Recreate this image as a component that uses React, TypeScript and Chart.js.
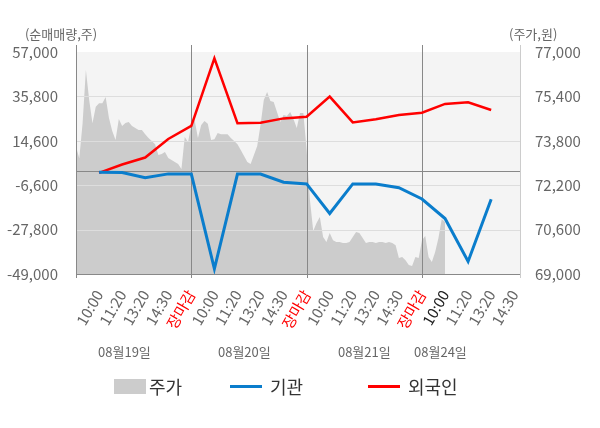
import React, { useEffect, useRef } from 'react';
import { Chart, registerables } from 'chart.js';

Chart.register(...registerables);

const FONT = "'Noto Sans CJK KR', 'Noto Sans', sans-serif";

const timeLabels = [
  '10:00', '11:20', '13:20', '14:30', '장마감',
  '10:00', '11:20', '13:20', '14:30', '장마감',
  '10:00', '11:20', '13:20', '14:30', '장마감',
  '10:00', '11:20', '13:20', '14:30',
];
const sessionEnds = [4, 9, 14];
const currentIndex = 15;

const dateLabels = ['08월19일', '08월20일', '08월21일', '08월24일'];
const datePositions = [1.1, 6.3, 11.5, 14.8];

// 순매매량 (주)
const institution = [
  -400, -500, -3000, -1200, -1300, -46500, -1300, -1300, -5200,
  -6000, -20100, -6000, -6000, -7800, -13200, -22500, -43000, -13300,
];
const foreign = [
  -700, 3300, 6600, 15500, 21700, 54000, 23000, 23200, 25300,
  26100, 35700, 23400, 24900, 26900, 28000, 32200, 33000, 29300,
];

// 주가 (원), 7 samples per time slot, starting one slot before the first label
const PRICE_SAMPLES_PER_SLOT = 7;
const priceValues = [
  73590, 73170, 74430, 76350, 75270, 74430, 75030, 75150, 75150, 75380,
  74620, 74150, 73830, 74590, 74330, 74440, 74480, 74330, 74260, 74190,
  74190, 74040, 73900, 73790, 73680, 73290, 73320, 73400, 73180, 73110,
  73040, 72960, 72780, 73940, 73760, 74370, 74550, 73900, 74370, 74510,
  74410, 73830, 73860, 74080, 74040, 74040, 74040, 73900, 73790, 73680,
  73470, 73250, 73040, 72960, 73290, 73610, 74370, 75270, 75560, 75230,
  75200, 74840, 74480, 74730, 74690, 74840, 74590, 74260, 74800, 74800,
  73470, 71670, 70550, 70840, 71050, 70330, 70150, 70480, 70220, 70150,
  70150, 70120, 70120, 70150, 70330, 70510, 70480, 70300, 70120, 70150,
  70150, 70120, 70150, 70150, 70120, 70150, 70120, 70040, 69580, 69610,
  69500, 69320, 69290, 69610, 69580, 70220, 70370, 69610, 69430, 69790,
  70300, 70980, 70870,
];

const leftTicks = [-49000, -27800, -6600, 14600, 35800, 57000];
const rightTicks = [69000, 70600, 72200, 73800, 75400, 77000];

const decorPlugin = {
  id: 'decor',
  beforeDatasetsDraw(chart: any) {
    const { ctx, chartArea: a } = chart;
    ctx.save();
    ctx.fillStyle = '#f4f4f4';
    ctx.fillRect(a.left, a.top, a.right - a.left, a.bottom - a.top);
    ctx.restore();
  },
  afterDatasetDraw(chart: any, args: any) {
    if (args.index !== 2) return;
    const { ctx, chartArea: a, scales } = chart;
    const y = scales.y;
    const x = scales.x;
    const hline = (py: number, color: string) => {
      const yy = Math.round(py) + 0.5;
      ctx.strokeStyle = color;
      ctx.beginPath();
      ctx.moveTo(a.left, yy);
      ctx.lineTo(a.right, yy);
      ctx.stroke();
    };
    const vline = (px: number, color: string) => {
      const xx = Math.round(px) + 0.5;
      ctx.strokeStyle = color;
      ctx.beginPath();
      ctx.moveTo(xx, a.top - 7);
      ctx.lineTo(xx, a.bottom + 4);
      ctx.stroke();
    };
    ctx.save();
    ctx.lineWidth = 1;
    leftTicks.slice(1, -1).forEach((v) => hline(y.getPixelForValue(v), '#dddddd'));
    hline(y.getPixelForValue(0), '#888888');
    hline(a.bottom, '#888888');
    vline(a.left, '#888888');
    sessionEnds.forEach((i) => vline(x.getPixelForValue(i), '#888888'));
    vline(a.right, '#cccccc');
    ctx.restore();
  },
  afterDraw(chart: any) {
    const { ctx, chartArea: a, scales } = chart;
    ctx.save();
    ctx.fillStyle = '#666666';
    ctx.font = `13px ${FONT}`;
    ctx.textBaseline = 'middle';
    ctx.textAlign = 'center';
    ctx.fillText('(순매매량,주)', a.left - 15, 34);
    ctx.textAlign = 'left';
    ctx.fillText('(주가,원)', a.right - 11, 34);
    ctx.textAlign = 'center';
    dateLabels.forEach((d, i) => {
      ctx.fillText(d, scales.x.getPixelForValue(datePositions[i]), 352);
    });
    ctx.restore();
  },
};

const legendItems = [
  { label: '주가', color: '#cccccc', box: true, left: 114 },
  { label: '기관', color: '#0a7dcc', box: false, left: 230 },
  { label: '외국인', color: '#ff0000', box: false, left: 368 },
];

const App: React.FC = () => {
  const canvasRef = useRef<HTMLCanvasElement | null>(null);

  useEffect(() => {
    if (!canvasRef.current) return;

    const chart = new Chart(canvasRef.current, {
      type: 'line',
      data: {
        datasets: [
          {
            label: '기관',
            data: institution.map((v, i) => ({ x: i, y: v })),
            borderColor: '#0a7dcc',
            borderWidth: 3,
            pointRadius: 0,
            yAxisID: 'y',
          },
          {
            label: '외국인',
            data: foreign.map((v, i) => ({ x: i, y: v })),
            borderColor: '#ff0000',
            borderWidth: 2.5,
            pointRadius: 0,
            yAxisID: 'y',
          },
          {
            label: '주가',
            data: priceValues.map((v, i) => ({ x: -1 + i / PRICE_SAMPLES_PER_SLOT, y: v })),
            borderWidth: 0,
            borderColor: 'rgba(0,0,0,0)',
            backgroundColor: '#cccccc',
            fill: 'start',
            pointRadius: 0,
            yAxisID: 'y1',
          },
        ],
      },
      options: {
        animation: false,
        responsive: true,
        maintainAspectRatio: false,
        layout: { padding: { top: 52, left: 0, right: 0, bottom: 0 } },
        plugins: { legend: { display: false }, tooltip: { enabled: false } },
        scales: {
          x: {
            type: 'linear',
            min: -1,
            max: 18.25,
            grid: { display: false },
            border: { display: false },
            afterBuildTicks: (scale: any) => {
              scale.ticks = timeLabels.map((_, i) => ({ value: i }));
            },
            afterFit: (scale: any) => {
              scale.height = 154;
            },
            ticks: {
              autoSkip: false,
              maxRotation: 60,
              minRotation: 60,
              padding: 5,
              font: { family: FONT, size: 15 },
              color: (c: any) =>
                sessionEnds.includes(c.tick.value)
                  ? '#ff0000'
                  : c.tick.value === currentIndex
                  ? '#222222'
                  : '#666666',
              callback: (v: any) => timeLabels[v] ?? '',
            },
          },
          y: {
            position: 'left',
            min: -49000,
            max: 57000,
            grid: { display: false },
            border: { display: false },
            afterBuildTicks: (scale: any) => {
              scale.ticks = leftTicks.map((v) => ({ value: v }));
            },
            afterFit: (scale: any) => {
              scale.width = 76;
            },
            ticks: {
              padding: 10,
              font: { family: FONT, size: 15 },
              color: '#666666',
              callback: (v: any) => Number(v).toLocaleString('en-US'),
            },
          },
          y1: {
            position: 'right',
            min: 69000,
            max: 77000,
            grid: { display: false },
            border: { display: false },
            afterBuildTicks: (scale: any) => {
              scale.ticks = rightTicks.map((v) => ({ value: v }));
            },
            afterFit: (scale: any) => {
              scale.width = 80;
            },
            ticks: {
              padding: 7,
              font: { family: FONT, size: 15 },
              color: '#666666',
              callback: (v: any) => Number(v).toLocaleString('en-US'),
            },
          },
        },
      },
      plugins: [decorPlugin],
    });

    return () => {
      chart.destroy();
    };
  }, []);

  return (
    <div style={{ position: 'fixed', left: 0, top: 0, width: 600, height: 428, background: '#fff' }}>
      <canvas ref={canvasRef} />
      {legendItems.map((it) => (
        <div
          key={it.label}
          style={{
            position: 'absolute',
            left: it.left,
            top: 374,
            height: 24,
            display: 'flex',
            alignItems: 'center',
            fontFamily: FONT,
            fontSize: 18,
            color: '#333333',
          }}
        >
          <span
            style={{
              display: 'inline-block',
              width: 32,
              height: it.box ? 15 : 3,
              background: it.color,
              marginRight: it.box ? 3 : 8,
            }}
          />
          {it.label}
        </div>
      ))}
    </div>
  );
};

export default App;
